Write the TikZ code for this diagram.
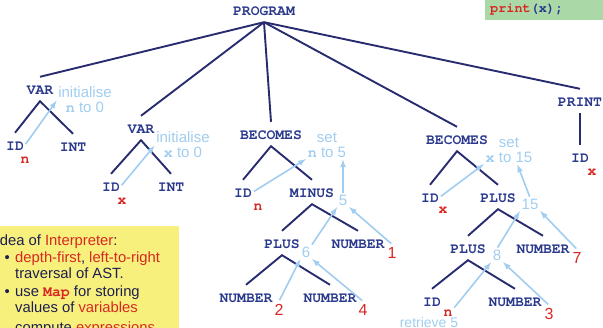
\documentclass[tikz,border=0pt]{standalone}
\usepackage{fontspec}
\setmainfont{Liberation Sans}
\setmonofont{TeX Gyre Cursor}
\usetikzlibrary{arrows}
\definecolor{astblue}{RGB}{42,57,140}
\definecolor{astnavy}{RGB}{40,44,110}
\definecolor{astlight}{RGB}{160,205,240}
\definecolor{astred}{RGB}{215,40,35}
\definecolor{ideanavy}{RGB}{30,30,80}
\definecolor{codegreen}{RGB}{170,216,166}
\definecolor{ideayellow}{RGB}{247,240,125}
\newcommand\astfont{\fontsize{14.7}{16}\selectfont\ttfamily\bfseries}
\newcommand\notefont{\fontsize{15}{15}\selectfont}
\newcommand\valfont{\fontsize{16}{16}\selectfont}
\newcommand\boxfont{\fontsize{14.8}{16.7}\selectfont}
\newcommand\codefont{\fontsize{13.5}{14}\selectfont\ttfamily\bfseries}
\newcommand\mono[1]{\textbf{\texttt{#1}}}

\begin{document}
\begin{tikzpicture}[x=1pt,y=1pt,yscale=-1,xscale=1,
  ast/.style={font=\astfont, text=astblue, anchor=base, text height=12pt, text depth=0pt, inner xsep=1pt, inner ysep=6pt},
  astline/.style={draw=astnavy, line width=1.9pt},
  flow/.style={draw=astlight, line width=1.6pt, -latex, shorten <=1pt, shorten >=1pt},
  note/.style={font=\notefont, text=astlight, align=center, inner sep=1pt},
  num/.style={font=\notefont, text=astlight, inner sep=1pt},
  val/.style={font=\valfont, text=astred, inner sep=3pt},
  var/.style={font=\astfont, text=astred, inner sep=1pt},
  idea/.style={font=\boxfont, text=ideanavy, anchor=base west, inner sep=0pt}]
\useasboundingbox (0,0) rectangle (603,328);
\clip (0,0) rectangle (603,328);

%Shape: Rectangle [code box]
\fill[codegreen] (485,0) rectangle (603,20);
\node[anchor=west, font=\codefont, inner sep=0pt] (code) at (490,10) {\textcolor{astred}{print}\textcolor{astblue}{(x);}};
%Shape: Rectangle [idea box]
\fill[ideayellow] (-2,226) rectangle (179,330);

%Nodes: AST
\node[ast] (prog) at (264,16) {PROGRAM};
\node[ast] (var1) at (40,95) {VAR};
\node[ast] (id1) at (15,151) {ID};
\node[ast] (int1) at (73,152) {INT};
\node[ast] (var2) at (141,134) {VAR};
\node[ast] (id2) at (111,192) {ID};
\node[ast] (int2) at (171,192) {INT};
\node[ast] (bec1) at (271,140) {BECOMES};
\node[ast] (id3) at (243,198) {ID};
\node[ast] (minus) at (312,198) {MINUS};
\node[ast] (plus1) at (282,249) {PLUS};
\node[ast] (num1) at (358,249) {NUMBER};
\node[ast] (num2) at (246,303) {NUMBER};
\node[ast] (num4) at (330,303) {NUMBER};
\node[ast] (bec2) at (457,145) {BECOMES};
\node[ast] (id4) at (430,203) {ID};
\node[ast] (plus2) at (498,203) {PLUS};
\node[ast] (plus3) at (468,254) {PLUS};
\node[ast] (num7) at (543,254) {NUMBER};
\node[ast] (id6) at (432,307) {ID};
\node[ast] (num3) at (515,307) {NUMBER};
\node[ast] (print) at (580,107) {PRINT};
\node[ast] (id5) at (580,163) {ID};

%Nodes: names and numbers
\node[var] (n1) at (25,160) {n};
\node[var] (x2) at (122,201) {x};
\node[var] (n3) at (258,207) {n};
\node[var] (x4) at (443,210) {x};
\node[var] (n6) at (448,313) {n};
\node[var] (x5) at (592,172) {x};
\node[val] (one) at (392,253) {1};
\node[val] (two) at (279,310) {2};
\node[val] (four) at (363,310) {4};
\node[val] (seven) at (577,258) {7};
\node[val] (three) at (549,314) {3};

%Nodes: evaluation
\node[num] (five) at (343,200) {5};
\node[num] (six) at (306,252) {6};
\node[num] (fifteen) at (530,204) {15};
\node[num] (eight) at (497,255) {8};
\node[note] (ini1) at (85,100) {initialise\\\mono{n} to 0};
\node[note] (ini2) at (183,145) {initialise\\\mono{x} to 0};
\node[note] (set5) at (327,145) {set\\\mono{n} to 5};
\node[note] (set15) at (509,150) {set\\\mono{x} to 15};
\node[note, font=\fontsize{14}{14}\selectfont] (retr) at (429,322) {retrieve 5};

%Straight Lines: tree
\draw[astline] (prog.south) -- (var1.north);
\draw[astline] (prog.south) -- (var2.north);
\draw[astline] (prog.south) -- (bec1.north);
\draw[astline] (prog.south) -- (bec2.north);
\draw[astline] (prog.south) -- (print.north);
\draw[astline] (id1.north) -- (var1.south) -- (int1.north);
\draw[astline] (id2.north) -- (var2.south) -- (int2.north);
\draw[astline] (id3.north) -- (bec1.south) -- (minus.north);
\draw[astline] (plus1.north) -- (minus.south) -- (num1.north);
\draw[astline] (num2.north) -- (plus1.south) -- (num4.north);
\draw[astline] (id4.north) -- (bec2.south) -- (plus2.north);
\draw[astline] (plus3.north) -- (plus2.south) -- (num7.north);
\draw[astline] (id6.north) -- (plus3.south) -- (num3.north);
\draw[astline] (print.south) -- (id5.north);

%Arrows: values flowing up
\draw[flow] (id1.east) -- (ini1.west);
\draw[flow] (id2.east) -- (ini2.west);
\draw[flow] (id3.east) -- (set5.south west);
\draw[flow] (five.north) -- (five |- set5.south);
\draw[flow] (six.north east) -- (five.south west);
\draw[flow] (one.north) -- (five.south east);
\draw[flow] (two.north) -- (six.south west);
\draw[flow] (four.north) -- (six.south east);
\draw[flow] (id4.east) -- (set15.south west);
\draw[flow] (fifteen.north) -- ([xshift=8pt]set15.south);
\draw[flow] (eight.north) -- (fifteen.south west);
\draw[flow] (seven.north) -- (fifteen.south east);
\draw[flow] (n6.north east) -- (eight.south west);
\draw[flow] (three.north) -- (eight.south east);

%Text: idea box
\node[idea] (idea0) at (-4.5,246) {Idea of \textcolor{astred}{Interpreter}:};
\node[idea] (dot1) at (4.5,263) {•};
\node[idea] (idea1) at (15,263) {\textcolor{astred}{depth-first}, \textcolor{astred}{left-to-right}};
\node[idea] (idea2) at (15,279) {traversal of AST.};
\node[idea] (dot2) at (4.5,297) {•};
\node[idea] (idea3) at (15,297) {use \textcolor{astred}{\mono{Map}} for storing};
\node[idea] (idea4) at (15,313) {values of \textcolor{astred}{variables}};
\node[idea] (idea5) at (15,333) {compute \textcolor{astred}{expressions}};
\end{tikzpicture}
\end{document}
